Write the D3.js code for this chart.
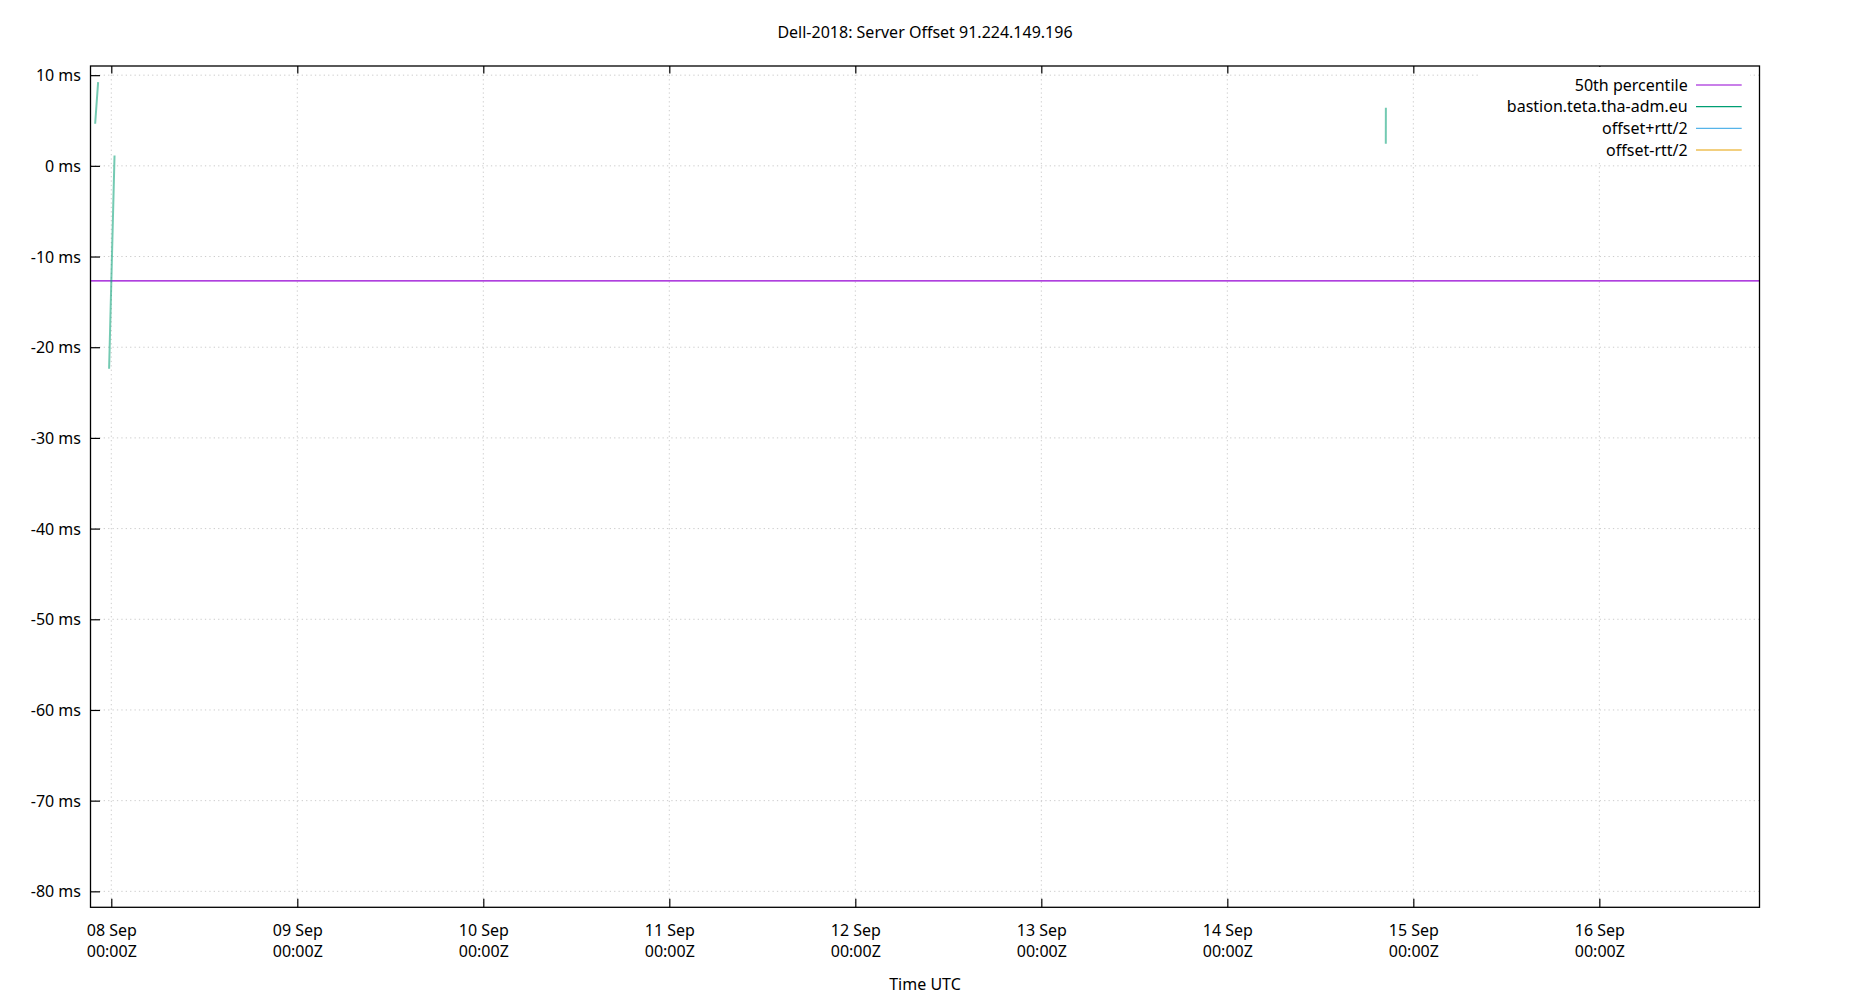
<!DOCTYPE html>
<html>
<head>
<meta charset="utf-8">
<script src="https://cdn.jsdelivr.net/npm/d3@7"></script>
<style>
  body { margin: 0; background: #fff; }
  svg text { font-family: "Noto Sans", "Open Sans", sans-serif; fill: #000; }
</style>
</head>
<body>
<svg id="chart" width="1850" height="1000"></svg>
<script>
// ---- data ----
const chartTitle = "Dell-2018: Server Offset 91.224.149.196";
const xAxisLabel = "Time UTC";
const xDomain = ["2023-09-07T21:19:00Z", "2023-09-16T20:40:00Z"];
const yDomain = [-81.76, 11.01];
const xTickDates = ["2023-09-08", "2023-09-09", "2023-09-10", "2023-09-11", "2023-09-12",
                    "2023-09-13", "2023-09-14", "2023-09-15", "2023-09-16"];
const yTickValues = [10, 0, -10, -20, -30, -40, -50, -60, -70, -80];
const percentile50 = -12.68;
// offset samples (null marks a gap in the data)
const offsetTimes = ["2023-09-07T21:55:00Z", "2023-09-07T22:18:00Z", null,
                     "2023-09-07T23:43:00Z", "2023-09-08T00:25:00Z", null,
                     "2023-09-14T20:27:00Z", "2023-09-14T20:27:30Z"];
const offsetValues = [4.64, 9.23, null, -22.37, 1.14, null, 2.43, 6.40];
const offsetPlusTimes = [];
const offsetPlusValues = [];
const offsetMinusTimes = [];
const offsetMinusValues = [];
const legendLabels = ["50th percentile", "bastion.teta.tha-adm.eu", "offset+rtt/2", "offset-rtt/2"];
const legendColors = ["#9400d3", "#009e73", "#56b4e9", "#e69f00"];

// ---- layout ----
const svg = d3.select("#chart");
const mLeft = 90.5, mRight = 1759.5, mTop = 66, mBottom = 907.3;
const x = d3.scaleUtc().domain(xDomain.map(d => new Date(d))).range([mLeft, mRight]);
const y = d3.scaleLinear().domain(yDomain).range([mBottom, mTop]);
const FONT = "16px";

// title
svg.append("text").attr("x", 925).attr("y", 38.3).attr("text-anchor", "middle")
  .style("font-size", FONT).text(chartTitle);

// grid
const grid = svg.append("g").attr("stroke", "#cccccc").attr("stroke-width", 1)
  .attr("stroke-dasharray", "1.3,3.1");
const xTicks = xTickDates.map(d => new Date(d + "T00:00:00Z"));
grid.selectAll("line.gx").data(xTicks).join("line").attr("class", "gx")
  .attr("x1", d => x(d)).attr("x2", d => x(d)).attr("y1", mTop).attr("y2", mBottom);
grid.selectAll("line.gy").data(yTickValues).join("line").attr("class", "gy")
  .attr("x1", mLeft).attr("x2", mRight).attr("y1", d => y(d)).attr("y2", d => y(d));

// axes
const fmtDay = d3.utcFormat("%d %b");
const fmtTime = d3.utcFormat("%H:%MZ");
const xAxis = svg.append("g").attr("transform", `translate(0,${mBottom})`)
  .call(d3.axisBottom(x).tickValues(xTicks).tickSizeInner(-8.5).tickSizeOuter(0).tickPadding(0).tickFormat(""));
xAxis.select(".domain").remove();
xAxis.selectAll(".tick line").attr("stroke", "#000").attr("stroke-width", 1.2);
xAxis.selectAll(".tick text").remove();
xAxis.selectAll(".tick").each(function(d) {
  const t = d3.select(this).append("text").attr("text-anchor", "middle").style("font-size", FONT).attr("fill", "#000");
  t.append("tspan").attr("x", 0).attr("y", 28.7).text(fmtDay(d));
  t.append("tspan").attr("x", 0).attr("y", 49.4).text(fmtTime(d));
});
const xTop = svg.append("g").attr("transform", `translate(0,${mTop})`)
  .call(d3.axisTop(x).tickValues(xTicks).tickSizeInner(-7.5).tickSizeOuter(0).tickFormat(""));
xTop.select(".domain").remove();
xTop.selectAll(".tick line").attr("stroke", "#000").attr("stroke-width", 1.2);

const yAxis = svg.append("g").attr("transform", `translate(${mLeft},0)`)
  .call(d3.axisLeft(y).tickValues(yTickValues).tickSizeInner(-9.5).tickSizeOuter(0).tickPadding(9.5)
    .tickFormat(d => String(d) + " ms"));
yAxis.select(".domain").remove();
yAxis.selectAll(".tick line").attr("stroke", "#000").attr("stroke-width", 1.2);
yAxis.selectAll(".tick text").attr("dy", null).attr("y", 5.5).style("font-size", FONT).attr("fill", "#000");

// x axis label
svg.append("text").attr("x", 925).attr("y", 990).attr("text-anchor", "middle")
  .style("font-size", FONT).text(xAxisLabel);

// 50th percentile line
svg.append("line").attr("x1", mLeft).attr("x2", mRight)
  .attr("y1", y(percentile50)).attr("y2", y(percentile50))
  .attr("stroke", legendColors[0]).attr("stroke-width", 1.3);

// data lines
const pts = (ts, vs) => ts.map((t, i) => ({ t: t ? new Date(t) : null, v: vs[i] }));
const line = d3.line().defined(d => d.t !== null && d.v !== null).x(d => x(d.t)).y(d => y(d.v));
svg.append("path").datum(pts(offsetTimes, offsetValues)).attr("d", line)
  .attr("fill", "none").attr("stroke", legendColors[1]).attr("stroke-width", 2).attr("stroke-opacity", 0.55);
svg.append("path").datum(pts(offsetPlusTimes, offsetPlusValues)).attr("d", line)
  .attr("fill", "none").attr("stroke", legendColors[2]).attr("stroke-width", 1.3);
svg.append("path").datum(pts(offsetMinusTimes, offsetMinusValues)).attr("d", line)
  .attr("fill", "none").attr("stroke", legendColors[3]).attr("stroke-width", 1.3);

// legend (opaque)
svg.append("rect").attr("x", 1478).attr("y", mTop + 1).attr("width", 272).attr("height", 96).attr("fill", "#fff");
const lg = svg.append("g");
legendLabels.forEach((lab, i) => {
  const cy = 85 + i * 21.67;
  lg.append("text").attr("x", 1687.7).attr("y", cy + 5.5).attr("text-anchor", "end")
    .style("font-size", FONT).text(lab);
  lg.append("line").attr("x1", 1696).attr("x2", 1741.7).attr("y1", cy).attr("y2", cy)
    .attr("stroke", legendColors[i]).attr("stroke-width", 1.2);
});

// border
svg.append("rect").attr("x", mLeft).attr("y", mTop).attr("width", mRight - mLeft).attr("height", mBottom - mTop)
  .attr("fill", "none").attr("stroke", "#000").attr("stroke-width", 1.3);
</script>
</body>
</html>
